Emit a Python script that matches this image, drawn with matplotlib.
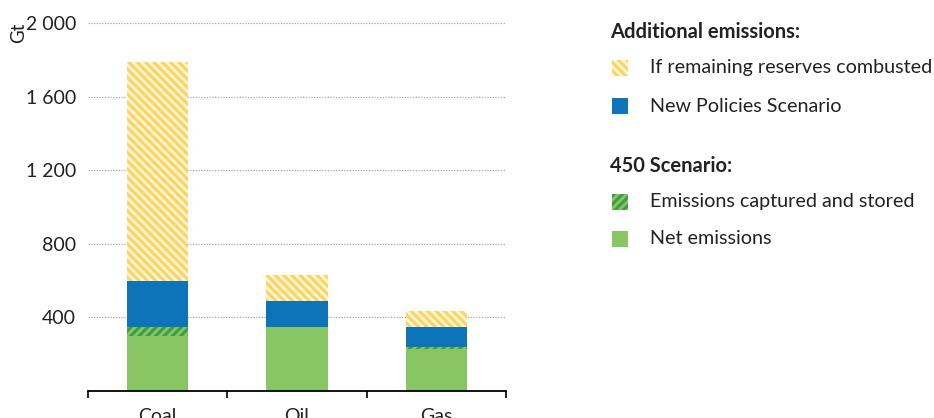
import matplotlib
matplotlib.use("Agg")
import matplotlib.pyplot as plt
from matplotlib.patches import Rectangle
import numpy as np

plt.rcParams['font.family'] = ['Lato', 'DejaVu Sans']
plt.rcParams['hatch.linewidth'] = 2.3

# Cumulative CO2 emissions by fuel (Gt)
fuels = ["Coal", "Oil", "Gas"]
net_450 = [300, 350, 228]          # 450 Scenario: net emissions
ccs_450 = [50, 0, 10]              # 450 Scenario: captured and stored
extra_nps = [250, 140, 110]        # additional emissions, New Policies Scenario
extra_reserves = [1190, 140, 85]   # additional emissions if remaining reserves combusted

yticks = [400, 800, 1200, 1600, 2000]
ytick_labels = ["400", "800", "1 200", "1 600", "2 000"]

legend_heads = ["Additional emissions:", "450 Scenario:"]
legend_labels = ["If remaining reserves combusted", "New Policies Scenario",
                 "Emissions captured and stored", "Net emissions"]

GREEN = "#88C663"
GREEN_DARK = "#3C9F46"
BLUE = "#0E74BA"
YELLOW = "#FFD45C"
YELLOW_PALE = "#FFF6DC"
GRID = "#A6A6A6"
TXT = "#222222"

HATCH_Y = "\\\\\\\\"
HATCH_G = "////"

W, H = 934, 418
fig = plt.figure(figsize=(W / 100, H / 100), dpi=100)
ax = fig.add_axes([88 / W, 27 / H, (506 - 88) / W, (391 - 23) / H])

x = np.arange(len(fuels))
bw = 0.44
b0 = np.zeros(len(fuels))
ax.bar(x, net_450, bw, bottom=b0, color=GREEN, lw=0, zorder=3)
b1 = b0 + np.array(net_450)
ax.bar(x, ccs_450, bw, bottom=b1, facecolor=GREEN, edgecolor=GREEN_DARK,
       hatch=HATCH_G, lw=0, zorder=3)
b2 = b1 + np.array(ccs_450)
ax.bar(x, extra_nps, bw, bottom=b2, color=BLUE, lw=0, zorder=3)
b3 = b2 + np.array(extra_nps)
ax.bar(x, extra_reserves, bw, bottom=b3, facecolor=YELLOW_PALE,
       edgecolor=YELLOW, hatch=HATCH_Y, lw=0, zorder=3)

ax.set_xlim(-0.5, len(fuels) - 0.5)
ax.set_ylim(0, 2000)
ax.set_yticks(yticks)
ax.set_yticklabels(ytick_labels)
ax.tick_params(axis='y', length=0, pad=8.5, labelsize=14, colors=TXT)
ax.set_xticks(x)
ax.set_xticklabels(fuels)
ax.tick_params(axis='x', which='major', length=0, pad=12, labelsize=14,
               colors=TXT)
ax.set_xticks(np.arange(len(fuels) + 1) - 0.5, minor=True)
ax.tick_params(axis='x', which='minor', length=5, width=1.2, direction='out',
               color="black")
ax.yaxis.grid(True, color=GRID, linestyle=(0, (1, 1.2)), lw=0.9, zorder=0)
for s in ["left", "right", "top"]:
    ax.spines[s].set_visible(False)
ax.spines["bottom"].set_linewidth(1.3)
ax.spines["bottom"].set_zorder(4)
ax.text(-0.165, 0.973, "Gt", transform=ax.transAxes, rotation=90,
        ha='center', va='center', fontsize=13.5, color=TXT)

# Legend panel in pixel coordinates
lg = fig.add_axes([600 / W, 0, (W - 600) / W, 1])
lg.set_xlim(600, W)
lg.set_ylim(H, 0)
lg.axis('off')

head_y = [32, 166]
item_y = [68, 106, 202, 239]
styles = [dict(facecolor=YELLOW_PALE, edgecolor=YELLOW, hatch=HATCH_Y),
          dict(facecolor=BLUE, edgecolor=BLUE),
          dict(facecolor=GREEN, edgecolor=GREEN_DARK, hatch=HATCH_G),
          dict(facecolor=GREEN, edgecolor=GREEN)]
for hy, head in zip(head_y, legend_heads):
    lg.text(610, hy, head, fontsize=14.5, fontweight='bold', va='center',
            ha='left', color=TXT)
for iy, lab, st in zip(item_y, legend_labels, styles):
    lg.add_patch(Rectangle((612, iy - 8), 16, 16, lw=0, **st))
    lg.text(650, iy, lab, fontsize=14.2, va='center', ha='left', color=TXT)

fig.savefig("out.png", dpi=100)
